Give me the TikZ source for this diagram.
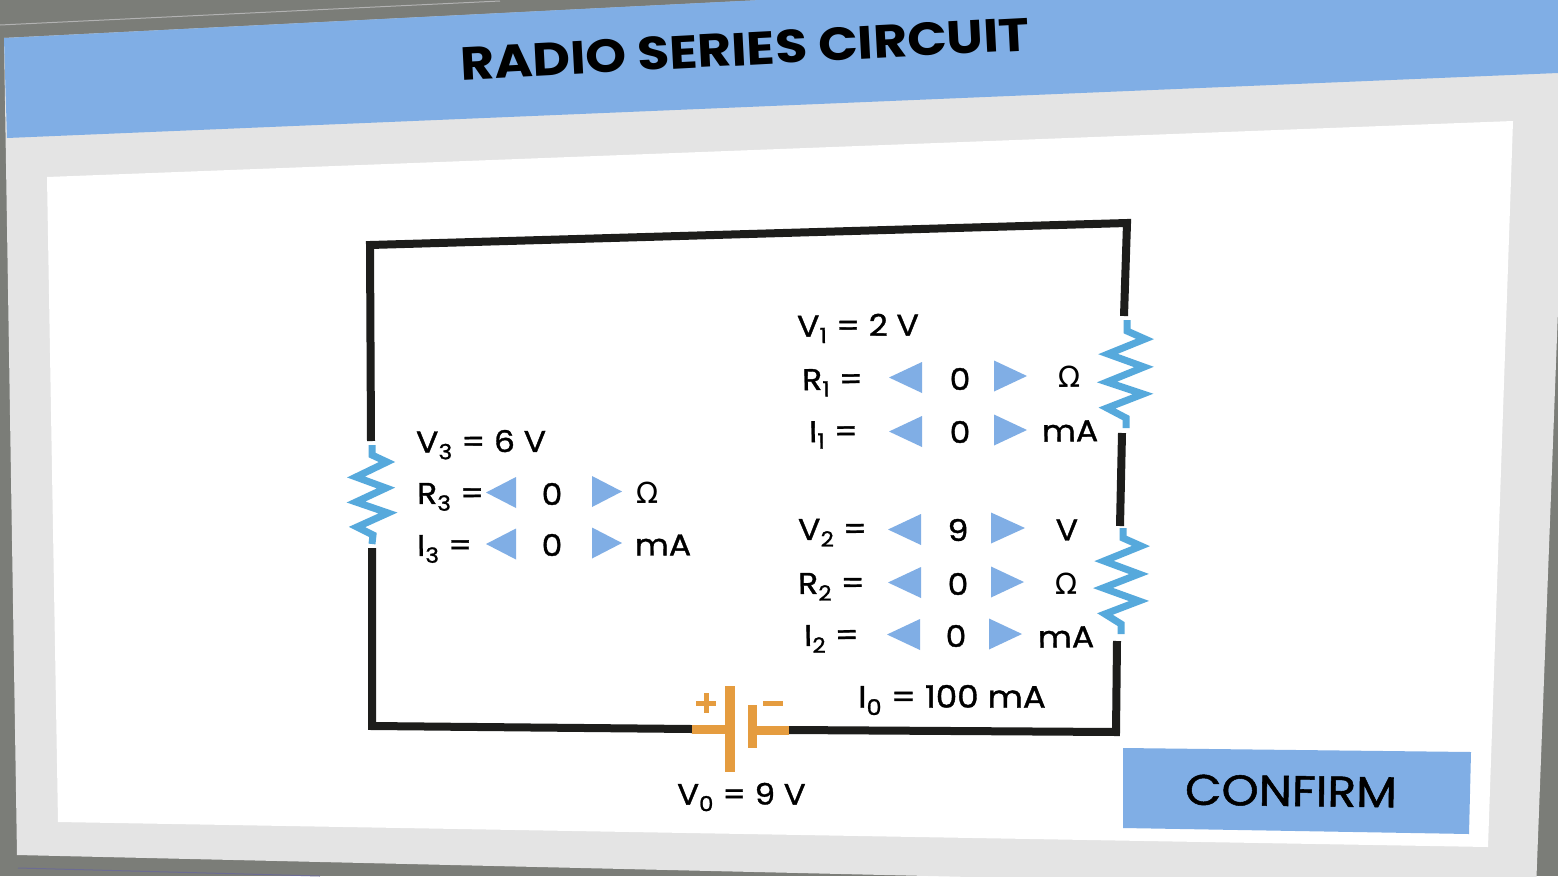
\documentclass[tikz,border=0pt]{standalone}
\usepackage{fontspec}
\setmainfont{Poppins}[FakeStretch=1.1, FakeBold=1.2]
\newfontfamily\titlefont{Poppins}[FakeStretch=1.12]
\newfontfamily\omfont{DejaVu Sans}
\definecolor{backgrey}{HTML}{7B7D78}
\definecolor{framegrey}{HTML}{E4E4E4}
\definecolor{barblue}{HTML}{80AEE5}
\definecolor{wireblack}{HTML}{1D1D1B}
\definecolor{resblue}{HTML}{56A9DC}
\definecolor{batorange}{HTML}{E59C3F}
\tikzset{
	lab/.style={anchor=west, inner sep=0pt, font=\fontsize{30}{30}\selectfont, rotate=0.6},
	val/.style={inner sep=0pt, font=\fontsize{30}{30}\selectfont, rotate=0.6},
	wire/.style={draw=wireblack, line width=8pt, line join=miter},
	res/.style={draw=resblue, line width=7pt, line join=miter},
	bat/.style={draw=batorange, line width=10pt},
	tri/.style={fill=barblue},
}
\begin{document}
\begin{tikzpicture}[x=1pt,y=-1pt]
		\useasboundingbox (0, 0) rectangle (1558, 876);
		\fill[backgrey] (0, 0) rectangle (1558, 876);
		\draw[gray!60, line width=1pt] (0, 25) -- (500, 1);
		\draw[gray!85!blue, line width=1pt] (18, 868) -- (320, 876);
		\fill[framegrey] (4, 38) -- (1566, -40) -- (1558, 310) -- (1536, 890) -- (17, 855) -- cycle;
		\fill[barblue] (4, 38) -- (800, -2) -- (1558, -35) -- (1558, 73) -- (7, 138) -- cycle;
		\fill[white] (47, 177) -- (1513, 121) -- (1488, 847) -- (58, 822) -- cycle;
		\fill[barblue] (1123, 748) -- (1471, 752) -- (1469, 834) -- (1123, 828) -- cycle;
		%%%%%%%%%%%%%
		\node[inner sep=0pt, font=\fontsize{46.5}{47}\selectfont\titlefont\bfseries, rotate=3] (title) at (745, 49) {RADIO SERIES CIRCUIT};
		\node[inner sep=0pt, font=\fontsize{43}{43}\selectfont, rotate=-0.7] (confirm) at (1291, 791) {CONFIRM};
		%%%%%%%%%%%%%
		\coordinate (tl) at (370, 245);
		\coordinate (tr) at (1127, 223);
		\coordinate (br) at (1116, 732);
		\coordinate (bl) at (372, 726);
		\coordinate (r1top) at (1124, 316);
		\coordinate (r1bot) at (1122, 433);
		\coordinate (r2top) at (1120, 526);
		\coordinate (r2bot) at (1117, 641);
		\coordinate (r3top) at (371, 441);
		\coordinate (r3bot) at (372, 548);
		\coordinate (batl) at (692, 729);
		\coordinate (batr) at (789, 730);
		\draw[wire] (r3top) -- (tl) -- (tr) -- (r1top);
		\draw[wire] (r1bot) -- (r2top);
		\draw[wire] (r2bot) -- (br) -- (batr);
		\draw[wire] (batl) -- (bl) -- (r3bot);
		%%%%%%%%%%%%%
		\draw[res] (1127, 320) -- (1127, 331) -- (1145, 339) -- (1108, 354) -- (1144, 367) -- (1107, 382) -- (1143, 394) -- (1107, 408) -- (1126, 418) -- (1126, 428);
		\draw[res] (1123, 528) -- (1123, 538) -- (1141, 546) -- (1104, 561) -- (1139, 574) -- (1103, 588) -- (1139, 601) -- (1105, 614) -- (1121, 624) -- (1121, 634);
		\draw[res] (372, 445) -- (372, 455) -- (387, 462) -- (356, 477) -- (386, 488) -- (356, 502) -- (388, 513) -- (357, 527) -- (373, 535) -- (372, 544);
		%%%%%%%%%%%%%
		\draw[bat] (730, 686) -- (730, 772);
		\draw[bat, line width=9pt] (752, 705) -- (752, 748);
		\draw[bat, line width=9pt] (692, 729) -- (730, 729);
		\draw[bat, line width=9pt] (752, 730) -- (789, 730);
		\draw[bat, line width=5pt] (696, 703) -- (716, 703);
		\draw[bat, line width=5pt] (706, 693) -- (706, 713);
		\draw[bat, line width=5pt] (763, 703) -- (783, 703);
		%%%%%%%%%%%%%
		\foreach \tip/\base/\y in {486/516/492.5, 486/516/544, 889/922/377.5, 889/922/431.5, 888/921/529.5, 888/921/582.5, 887/920/634.5}
			\fill[tri] (\tip, \y) -- (\base, \y-15.5) -- (\base, \y+15.5) -- cycle;
		\foreach \base/\tip/\y in {592/622/491.5, 592/622/543, 994/1027/376, 994/1027/430, 991/1025/528, 991/1024/582, 989/1022/634}
			\fill[tri] (\base, \y-15.5) -- (\tip, \y) -- (\base, \y+15.5) -- cycle;
		%%%%%%%%%%%%%
		\node[lab] (v1) at (797, 329) {V\textsubscript{1} = 2 V};
		\node[lab] (r1) at (802, 383) {R\textsubscript{1} =};
		\node[lab] (i1) at (809, 435) {I\textsubscript{1} =};
		\node[val] (r1val) at (960, 379) {0};
		\node[val] (i1val) at (960, 432) {0};
		\node[val, font=\fontsize{29}{29}\selectfont\omfont] (r1unit) at (1069, 377) {Ω};
		\node[val] (i1unit) at (1070, 431) {mA};
		%%%%%%%%%%%%%
		\node[lab] (v2) at (798, 533) {V\textsubscript{2} =};
		\node[lab] (r2) at (798, 587) {R\textsubscript{2} =};
		\node[lab] (i2) at (804, 639) {I\textsubscript{2} =};
		\node[val] (v2val) at (958, 530) {9};
		\node[val] (r2val) at (958, 584) {0};
		\node[val] (i2val) at (956, 636) {0};
		\node[val] (v2unit) at (1067, 530) {V};
		\node[val, font=\fontsize{29}{29}\selectfont\omfont] (r2unit) at (1066, 584) {Ω};
		\node[val] (i2unit) at (1066, 637) {mA};
		%%%%%%%%%%%%%
		\node[lab, rotate=-0.3] (v3) at (416, 445) {V\textsubscript{3} = 6 V};
		\node[lab, rotate=-0.3] (r3) at (417, 497) {R\textsubscript{3} =};
		\node[lab, rotate=-0.3] (i3) at (417, 549) {I\textsubscript{3} =};
		\node[val, rotate=-0.3] (r3val) at (552, 494) {0};
		\node[val, rotate=-0.3] (i3val) at (552, 545) {0};
		\node[val, rotate=-0.3, font=\fontsize{29}{29}\selectfont\omfont] (r3unit) at (648, 493) {Ω};
		\node[val, rotate=-0.3] (i3unit) at (663, 545) {mA};
		%%%%%%%%%%%%%
		\node[lab, rotate=-0.6, font=\fontsize{31}{31}\selectfont] (i0) at (858, 700) {I\textsubscript{0} = 100 mA};
		\node[lab, rotate=-0.6, font=\fontsize{29.5}{30}\selectfont] (v0) at (677, 797) {V\textsubscript{0} = 9 V};
	\end{tikzpicture}
\end{document}
